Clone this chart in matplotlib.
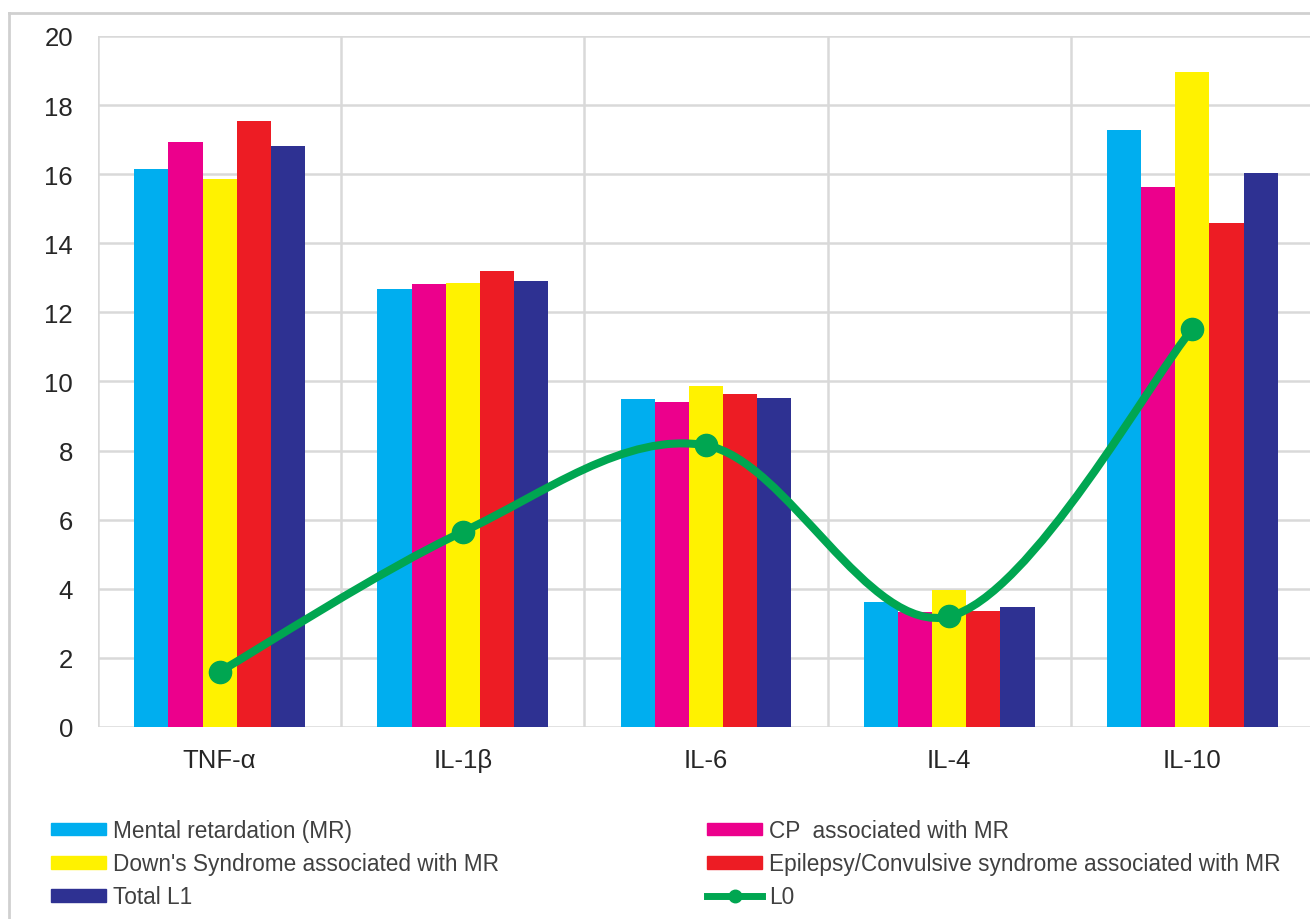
import matplotlib
matplotlib.use('Agg')
import matplotlib.pyplot as plt
import numpy as np
from matplotlib.path import Path
from matplotlib.patches import PathPatch, Patch
from matplotlib.lines import Line2D

plt.rcParams['font.family'] = ['Liberation Sans', 'DejaVu Sans']

# data
cytokines = ['TNF-α', 'IL-1β', 'IL-6', 'IL-4', 'IL-10']
mental_retardation = [16.15, 12.68, 9.48, 3.62, 17.28]
cp_with_mr = [16.93, 12.82, 9.42, 3.33, 15.62]
downs_with_mr = [15.86, 12.85, 9.88, 3.97, 18.96]
epilepsy_with_mr = [17.54, 13.20, 9.65, 3.36, 14.58]
total_l1 = [16.82, 12.91, 9.53, 3.47, 16.03]
l0 = [1.60, 5.65, 8.15, 3.20, 11.52]

series_names = ['Mental retardation (MR)', 'CP  associated with MR',
                "Down's Syndrome associated with MR",
                'Epilepsy/Convulsive syndrome associated with MR', 'Total L1']
series_values = [mental_retardation, cp_with_mr, downs_with_mr,
                 epilepsy_with_mr, total_l1]
colors = ['#00AEEF', '#EC008C', '#FFF200', '#ED1C24', '#2E3192']
green = '#00A651'

fig = plt.figure(figsize=(13.1, 9.2), dpi=100)
ax = fig.add_axes([98 / 1310, 192 / 920, 1216 / 1310, 691 / 920])

x = np.arange(len(cytokines))
width = 0.1405
for i, (vals, c) in enumerate(zip(series_values, colors)):
    ax.bar(x + (i - 2) * width, vals, width, color=c, zorder=2)

# smoothed line (Catmull-Rom style bezier, like Excel's smoothed line)
pts = np.column_stack([x, l0]).astype(float)
verts = [pts[0]]
codes = [Path.MOVETO]
for k in range(len(pts) - 1):
    p0 = pts[k - 1] if k > 0 else pts[k]
    p1 = pts[k]
    p2 = pts[k + 1]
    p3 = pts[k + 2] if k + 2 < len(pts) else pts[k + 1]
    verts += [p1 + (p2 - p0) / 6, p2 - (p3 - p1) / 6, p2]
    codes += [Path.CURVE4] * 3
ax.add_patch(PathPatch(Path(verts, codes), fill=False, edgecolor=green,
                       lw=5.8, zorder=3, capstyle='round'))
ax.plot(x, l0, 'o', color=green, markersize=16, zorder=4)

ax.set_xlim(-0.5, 4.5)
ax.set_ylim(0, 20)
ax.set_yticks(np.arange(0, 21, 2))
ax.set_xticks(x)
ax.set_xticklabels(cytokines)
ax.set_xticks(np.arange(-0.5, 5, 1), minor=True)
ax.grid(axis='y', color='#D9D9D9', lw=1.8, zorder=0)
ax.grid(axis='x', which='minor', color='#D9D9D9', lw=1.8, zorder=0)
for s in ax.spines.values():
    s.set_visible(False)
ax.tick_params(axis='y', length=0, pad=18, labelsize=18.5, labelcolor='#262626')
ax.tick_params(axis='x', which='both', length=0, pad=15, labelsize=18.5,
               labelcolor='#262626')

# outer chart border
fig.add_artist(Line2D([9 / 1310, 9 / 1310], [0, 1 - 14 / 920], color='#D0D0D0',
                      lw=2, transform=fig.transFigure))
fig.add_artist(Line2D([9 / 1310, 1], [1 - 14 / 920, 1 - 14 / 920],
                      color='#D0D0D0', lw=2, transform=fig.transFigure))

# legend in two columns
h = [Patch(color=c) for c in colors]
h_l0 = Line2D([], [], color=green, lw=5, marker='o', markersize=9)
leg_kw = dict(frameon=False, fontsize=16.3, handlelength=2.45, handleheight=0.5,
              handletextpad=0.3, labelspacing=0.45, borderpad=0,
              borderaxespad=0, labelcolor='#404040')
leg1 = fig.legend([h[0], h[2], h[4]],
                  [series_names[0], series_names[2], series_names[4]],
                  loc='upper left', bbox_to_anchor=(51 / 1310, 1 - 820 / 920),
                  **leg_kw)
leg2 = fig.legend([h[1], h[3], h_l0],
                  [series_names[1], series_names[3], 'L0'],
                  loc='upper left', bbox_to_anchor=(707 / 1310, 1 - 820 / 920),
                  **leg_kw)

plt.savefig('out.png', dpi=100)
